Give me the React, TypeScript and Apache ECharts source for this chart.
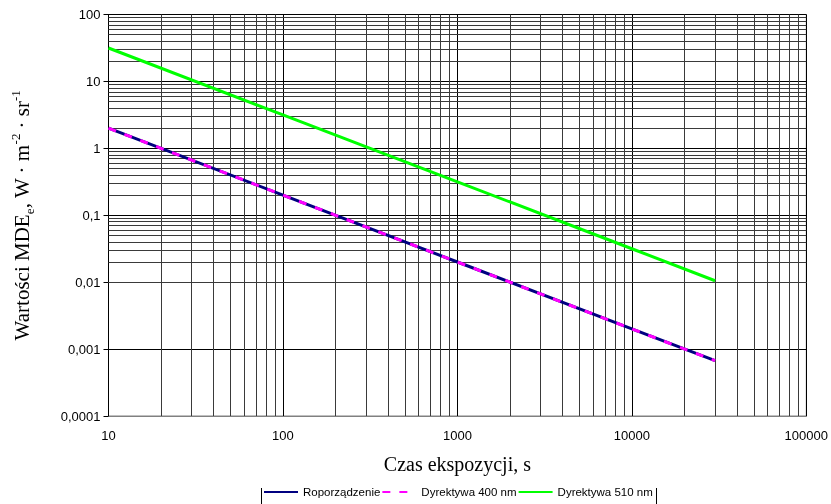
import React, { useEffect, useRef } from "react";
import * as echarts from "echarts";

// Exposure times (s)
const czas = [10, 100, 1000, 10000, 30000];
// Series values (W·m^-2·sr^-1)
const roporzadzenie = [2, 0.2, 0.02, 0.002, 0.00067];
const dyrektywa400 = [2, 0.2, 0.02, 0.002, 0.00067];
const dyrektywa510 = [31.6, 3.16, 0.316, 0.0316, 0.0105];

const seriesNames = ["Roporządzenie", "Dyrektywa 400 nm", "Dyrektywa 510 nm"];

// Decades for minor grid lines (2..9 within each decade)
const xDecades = [10, 100, 1000, 10000];
const yDecades = [0.0001, 0.001, 0.01, 0.1, 1, 10];
const minorMultipliers = [2, 3, 4, 5, 6, 7, 8, 9];

const xMinor = xDecades.flatMap((d) => minorMultipliers.map((m) => m * d));
const yMinor = yDecades.flatMap((d) => minorMultipliers.map((m) => m * d));

const pair = (xs: number[], ys: number[]) => xs.map((x, i) => [x, ys[i]]);

const fmtY = (v: number) =>
  Number(v.toPrecision(6)).toString().replace(".", ",");
const fmtX = (v: number) => String(Math.round(v));

export default function App() {
  const ref = useRef<HTMLDivElement>(null);

  useEffect(() => {
    if (!ref.current) return;
    const chart = echarts.init(ref.current, undefined, { renderer: "svg" });
    const serif = "'Liberation Serif', 'Times New Roman', serif";
    const sans = "'Liberation Sans', Arial, sans-serif";

    chart.setOption({
      animation: false,
      textStyle: { fontFamily: sans, color: "#000" },
      grid: {
        left: 108.5,
        right: 23.5,
        top: 14.5,
        bottom: 88,
        show: true,
        borderColor: "#808080",
        borderWidth: 1,
        backgroundColor: "transparent",
      },
      xAxis: {
        type: "log",
        logBase: 10,
        min: 10,
        max: 100000,
        name: "Czas ekspozycji, s",
        nameLocation: "middle",
        nameGap: 38,
        nameTextStyle: { fontFamily: serif, fontSize: 20, color: "#000" },
        axisLine: { show: true, lineStyle: { color: "#808080", width: 1 } },
        axisTick: { show: false },
        axisLabel: {
          fontSize: 13,
          color: "#000",
          margin: 13,
          fontFamily: sans,
          formatter: (v: number) => fmtX(v),
        },
        splitLine: { show: true, lineStyle: { color: "#000", width: 1 } },
        minorTick: { show: false },
        minorSplitLine: { show: false },
      },
      yAxis: {
        type: "log",
        logBase: 10,
        min: 0.0001,
        max: 100,
        name:
          "{a|Wartości MDE}{sub|e}{a|, W · m}{sup|-2}{a| · sr}{sup|-1}",
        nameLocation: "middle",
        nameRotate: 90,
        nameGap: 73,
        nameTextStyle: {
          fontFamily: serif,
          fontSize: 21,
          color: "#000",
          rich: {
            a: { fontFamily: serif, fontSize: 21, lineHeight: 27, color: "#000" },
            sup: {
              fontFamily: serif,
              fontSize: 13,
              verticalAlign: "top",
              color: "#000",
            },
            sub: {
              fontFamily: serif,
              fontSize: 13,
              verticalAlign: "bottom",
              color: "#000",
            },
          },
        },
        axisLine: { show: true, lineStyle: { color: "#000", width: 1 } },
        axisTick: { show: true, inside: false, length: 5, lineStyle: { color: "#000" } },
        axisLabel: {
          fontSize: 13,
          color: "#000",
          margin: 8,
          fontFamily: sans,
          formatter: (v: number) => fmtY(v),
        },
        splitLine: { show: true, lineStyle: { color: "#000", width: 1 } },
        minorTick: { show: false },
        minorSplitLine: { show: false },
      },
      legend: {
        data: seriesNames,
        left: 263,
        top: 486,
        padding: 0,
        itemWidth: 34,
        itemHeight: 14,
        itemGap: 1,
        itemStyle: { opacity: 0 },
        textStyle: { fontSize: 11.5, color: "#000", fontFamily: sans },
        selectedMode: false,
      },
      graphic: [
        {
          type: "line",
          shape: { x1: 261.5, y1: 488, x2: 261.5, y2: 504 },
          style: { stroke: "#000", lineWidth: 1 },
        },
        {
          type: "line",
          shape: { x1: 656.5, y1: 488, x2: 656.5, y2: 504 },
          style: { stroke: "#000", lineWidth: 1 },
        },
      ],
      series: [
        {
          name: "grid-minor",
          type: "line",
          data: [],
          z: 1,
          silent: true,
          markLine: {
            silent: true,
            symbol: ["none", "none"],
            label: { show: false },
            emphasis: { disabled: true },
            lineStyle: { color: "#3a3a3a", width: 1, type: "solid" },
            data: [
              ...xMinor.map((v) => ({ xAxis: v })),
              ...yMinor.map((v) => ({ yAxis: v })),
            ],
          },
        },
        {
          name: seriesNames[0],
          type: "line",
          data: pair(czas, roporzadzenie),
          showSymbol: false,
          symbol: "none",
          z: 5,
          lineStyle: { color: "#000080", width: 3 },
          itemStyle: { color: "#000080" },
        },
        {
          name: seriesNames[1],
          type: "line",
          data: pair(czas, dyrektywa400),
          showSymbol: false,
          symbol: "none",
          z: 6,
          lineStyle: { color: "#ff00ff", width: 3, type: [8, 9] },
          itemStyle: { color: "#ff00ff" },
        },
        {
          name: seriesNames[2],
          type: "line",
          data: pair(czas, dyrektywa510),
          showSymbol: false,
          symbol: "none",
          z: 5,
          lineStyle: { color: "#00ff00", width: 3 },
          itemStyle: { color: "#00ff00" },
        },
      ],
    });

    return () => chart.dispose();
  }, []);

  return (
    <div
      ref={ref}
      style={{ position: "fixed", left: 0, top: 0, width: 831, height: 504 }}
    />
  );
}
